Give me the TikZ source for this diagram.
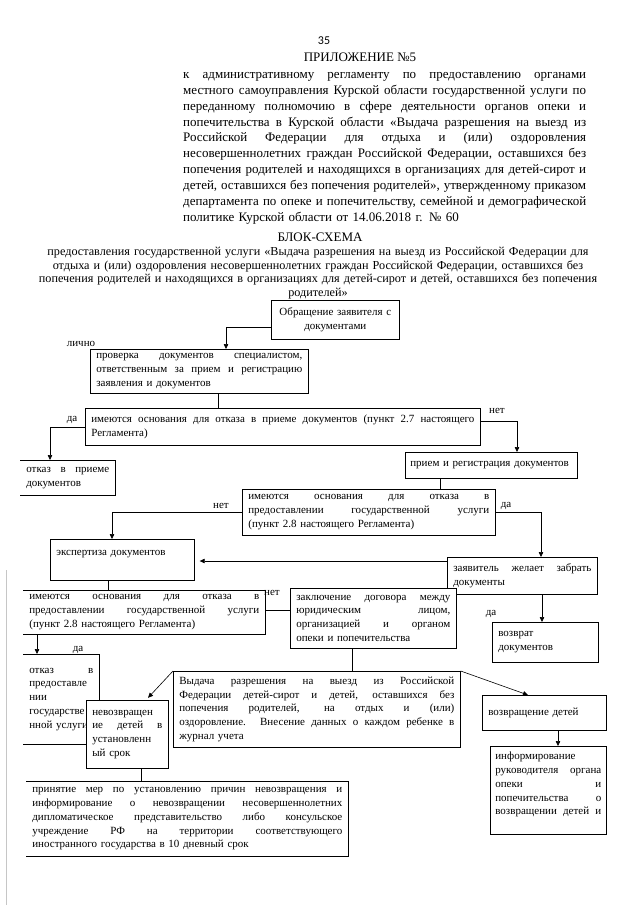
\documentclass[tikz,border=0pt]{standalone}
\usepackage{fontspec}
\setmainfont{Liberation Serif}
\newfontfamily\pgnumfont{Carlito}
\usetikzlibrary{arrows.meta,calc}
\newcommand\jl[1]{\leavevmode\hbox to \hsize{\spaceskip=0pt\xspaceskip=0pt #1}}
\begin{document}
\begin{tikzpicture}[x=1pt,y=-1pt,
  bx/.style={draw, line width=0.7pt, fill=white, anchor=north west, inner xsep=6pt, inner ysep=2pt, align=left, font=\fontsize{11}{13.8}\selectfont},
  obx/.style={bx, draw=none},
  bxline/.style={line width=0.7pt},
  ln/.style={line width=0.6pt},
  arr/.style={ln, -{Triangle[length=5pt,width=4.5pt]}},
  lbl/.style={font=\fontsize{11}{13}\selectfont, inner sep=0pt},
  hdr/.style={font=\fontsize{13}{15.9}\selectfont, inner sep=0pt}
]
\useasboundingbox (0,0) rectangle (639,905);
\fill[white] (0,0) rectangle (639,905);
\draw[gray!45, line width=0.8pt] (6,570) -- (6,905);

% header
\node[inner sep=0pt, font=\pgnumfont\fontsize{12}{14}\selectfont] (pnum) at (324,41) {35};
\node[hdr] (app) at (360,57) {ПРИЛОЖЕНИЕ №5};
\node[hdr, anchor=north west, text width=403pt, align=left] (para) at (183,72) {%
\jl{к административному регламенту по предоставлению органами}\\
\jl{местного самоуправления Курской области государственной услуги по}\\
\jl{переданному полномочию в сфере деятельности органов опеки и}\\
\jl{попечительства в Курской области «Выдача разрешения на выезд из}\\
\jl{Российской Федерации для отдыха и (или) оздоровления}\\
\jl{несовершеннолетних граждан Российской Федерации, оставшихся без}\\
\jl{попечения родителей и находящихся в организациях для детей-сирот и}\\
\jl{детей, оставшихся без попечения родителей», утвержденному приказом}\\
\jl{департамента по опеке и попечительству, семейной и демографической}\\
политике Курской области от 14.06.2018 г. № 60};
\node[hdr] (title) at (320,237) {БЛОК-СХЕМА};
\node[inner sep=0pt, anchor=north, text width=630pt, align=center, font=\fontsize{12.2}{13.7}\selectfont] (sub) at (318,247) {%
предоставления государственной услуги «Выдача разрешения на выезд из Российской Федерации для\\
отдыха и (или) оздоровления несовершеннолетних граждан Российской Федерации, оставшихся без\\
попечения родителей и находящихся в организациях для детей-сирот и детей, оставшихся без попечения\\
родителей»};

% boxes
\node[bx, align=center, minimum width=128pt, minimum height=39pt, text width=116pt] (A) at (271,300) {Обращение заявителя с\\ документами};
\node[bx, minimum width=218pt, minimum height=44pt, text width=206pt] (B) at (90,349) {\jl{проверка документов специалистом,}\\\jl{ответственным за прием и регистрацию}\\заявления и документов};
\node[bx, minimum width=395pt, minimum height=37pt, text width=383pt] (C) at (85,408) {\jl{имеются основания для отказа в приеме документов (пункт 2.7 настоящего}\\Регламента)};
\node[obx, minimum width=95pt, minimum height=35pt, text width=83pt] (D) at (20,460) {\jl{отказ в приеме}\\документов};
\draw[bxline] (D.north west) -- (D.north east) -- (D.south east) -- (D.south west);
\node[bx, inner xsep=5pt, minimum width=172pt, minimum height=26pt, text width=162pt] (E) at (405,452) {прием и регистрация документов};
\node[bx, minimum width=253pt, minimum height=46pt, text width=241pt] (F) at (242,489) {\jl{имеются основания для отказа в}\\\jl{предоставлении государственной услуги}\\(пункт 2.8 настоящего Регламента)};
\node[bx, minimum width=144pt, minimum height=41pt, text width=132pt] (G) at (50,539) {экспертиза документов\\\mbox{}};
\node[bx, minimum width=150pt, minimum height=37pt, text width=138pt] (H) at (447,557) {\jl{заявитель желает забрать}\\документы};
\node[obx, minimum width=242pt, minimum height=44pt, text width=230pt] (I) at (23,590) {\jl{имеются основания для отказа в}\\\jl{предоставлении государственной услуги}\\(пункт 2.8 настоящего Регламента)};
\draw[bxline] (I.north west) -- (I.north east) -- (I.south east) -- (I.south west);
\node[bx, minimum width=166pt, minimum height=60pt, text width=154pt] (J) at (290,588) {\jl{заключение договора между}\\\jl{юридическим лицом,}\\\jl{организацией и органом}\\опеки и попечительства};
\node[bx, minimum width=106pt, minimum height=40pt, text width=94pt] (K) at (492,622) {возврат\\документов};
\node[obx, minimum width=76pt, minimum height=90pt, text width=64pt] (L) at (23,654) {\jl{отказ в}\\предоставле\\нии\\государстве\\нной~услуги};
\draw[bxline] (L.north west) -- (L.north east) -- (L.south east) -- (L.south west);
\node[bx, minimum width=82pt, minimum height=68pt, text width=70pt] (M) at (86,700) {невозвращен\\\jl{ие детей в}\\установленн\\ый срок};
\node[bx, minimum width=287pt, minimum height=76pt, text width=275pt] (N) at (173,671) {\jl{Выдача разрешения на выезд из Российской}\\\jl{Федерации детей-сирот и детей, оставшихся без}\\\jl{попечения родителей, на отдых и (или)}\\\jl{оздоровление. Внесение данных о каждом ребенке в}\\журнал учета};
\node[bx, minimum width=124pt, minimum height=35pt, text width=112pt] (O) at (482,695) {возвращение детей};
\node[bx, inner xsep=5pt, minimum width=116pt, minimum height=88pt, text width=106pt] (P) at (490,746) {информирование\\\jl{руководителя органа}\\\jl{опеки и}\\\jl{попечительства о}\\\jl{возвращении детей и}\\\mbox{}};
\node[obx, minimum width=322pt, minimum height=75pt, text width=310pt] (Q) at (26,781) {\jl{принятие мер по установлению причин невозвращения и}\\\jl{информирование о невозвращении несовершеннолетних}\\\jl{дипломатическое представительство либо консульское}\\\jl{учреждение РФ на территории соответствующего}\\иностранного государства в 10 дневный срок};
\draw[bxline] (Q.north west) -- (Q.north east) -- (Q.south east) -- (Q.south west);

% labels
\node[lbl] (lLichno) at (81,344) {лично};
\node[lbl] (lDa1) at (72,420) {да};
\node[lbl] (lNet1) at (497,411) {нет};
\node[lbl] (lNet2) at (221,506) {нет};
\node[lbl] (lDa2) at (506,506) {да};
\node[lbl] (lNet3) at (272,593) {нет};
\node[lbl] (lDa3) at (491,614) {да};
\node[lbl] (lDa4) at (78,650) {да};

% connectors
\draw[arr] ([yshift=-7pt]A.west) -| ([xshift=136pt]B.north west);
\draw[ln] ([xshift=128pt]B.south west) -- ([xshift=128pt]B.south west |- C.north);
\draw[arr] (C.west) -| ([xshift=30pt]D.north west);
\draw[arr] ([yshift=6pt]C.east) -| ([xshift=112pt]E.north west);
\draw[ln] ([xshift=35pt]E.south west) -- ([xshift=35pt]E.south west |- F.north);
\draw[arr] (F.west) -| ([xshift=62pt]G.north west);
\draw[arr] (F.east) -| ([xshift=94pt]H.north west);
\draw[arr, shorten >=5pt] ([yshift=-4pt]H.north west) -- ([yshift=-4pt]H.north west -| G.east);
\draw[ln] ([xshift=58pt]G.south west) -- ([xshift=58pt]G.south west |- I.north);
\draw[ln] ([yshift=2pt]I.east) -- ([yshift=2pt]I.east -| J.west);
\draw[arr] ([xshift=95pt]H.south west) -- ([xshift=95pt]H.south west |- K.north);
\draw[arr] ([xshift=14pt]I.south west) -- ([xshift=14pt]I.south west |- L.north);
\draw[ln] ([xshift=62pt]J.south west) -- ([xshift=62pt]J.south west |- N.north);
\draw[arr, shorten >=3pt] (N.north west) -- ([xshift=60pt]M.north west);
\draw[arr] (N.north east) -- ([xshift=46pt]O.north west);
\draw[arr] ([xshift=76pt]O.south west) -- ([xshift=76pt]O.south west |- P.north);
\draw[ln] ([xshift=55pt]M.south west) -- ([xshift=55pt]M.south west |- Q.north);
\end{tikzpicture}
\end{document}
